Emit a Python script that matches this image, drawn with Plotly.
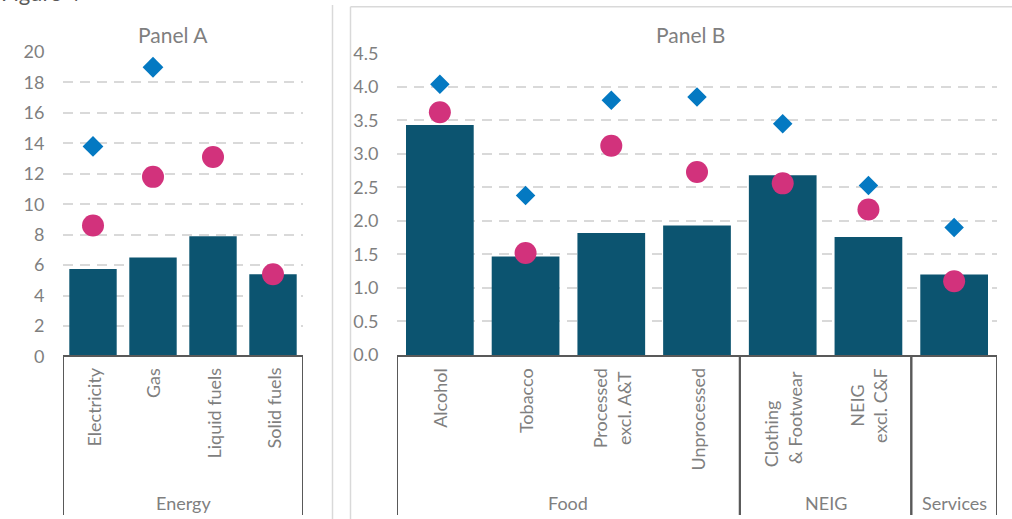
import plotly.graph_objects as go

W, H = 1012, 519

# ---------------- data ----------------
a_categories = ["Electricity", "Gas", "Liquid fuels", "Solid fuels"]
a_labels = ["Electricity", "Gas", "Liquid fuels", "Solid fuels"]
a_bars = [5.75, 6.5, 7.9, 5.4]
a_circles = [8.6, 11.8, 13.1, 5.4]
a_diamonds = [13.8, 19.0, None, None]
a_groups = [("Energy", 0, 3)]

b_categories = ["Alcohol", "Tobacco", "Processed", "Unprocessed", "Clothing", "NEIG", "Services"]
b_labels = ["Alcohol", "Tobacco", "Processed<br>excl. A&T", "Unprocessed",
            "Clothing       <br>& Footwear", "NEIG<br>excl. C&F", ""]
b_bars = [3.43, 1.47, 1.82, 1.93, 2.68, 1.76, 1.20]
b_circles = [3.62, 1.52, 3.12, 2.73, 2.56, 2.17, 1.10]
b_diamonds = [4.04, 2.38, 3.80, 3.85, 3.45, 2.53, 1.90]
b_groups = [("Food", 0, 3), ("NEIG", 4, 5), ("Services", 6, 6)]

a_yticks = [0, 2, 4, 6, 8, 10, 12, 14, 16, 18, 20]
b_yticks = [0.0, 0.5, 1.0, 1.5, 2.0, 2.5, 3.0, 3.5, 4.0, 4.5]

BAR = "#0c5470"
DIAM = "#0479c2"
CIRC = "#d2327c"
GRID = "#d9d9d9"
TXT = "#7f7f7f"
BOX = "#595959"
FONT = "Lato"

def px_x(x):
    return x / W

def px_y(y):
    return 1 - y / H

fig = go.Figure()

# Panel A traces
fig.add_trace(go.Bar(x=a_categories, y=a_bars, marker=dict(color=BAR, line=dict(width=0)),
                     xaxis="x", yaxis="y", showlegend=False))
fig.add_trace(go.Scatter(x=a_categories, y=a_diamonds, mode="markers",
                         marker=dict(symbol="diamond", size=16, color=DIAM),
                         xaxis="x", yaxis="y", showlegend=False))
fig.add_trace(go.Scatter(x=a_categories, y=a_circles, mode="markers",
                         marker=dict(symbol="circle", size=22, color=CIRC),
                         xaxis="x", yaxis="y", showlegend=False))
# Panel B traces
fig.add_trace(go.Bar(x=b_categories, y=b_bars, marker=dict(color=BAR, line=dict(width=0)),
                     xaxis="x2", yaxis="y2", showlegend=False))
fig.add_trace(go.Scatter(x=b_categories, y=b_diamonds, mode="markers",
                         marker=dict(symbol="diamond", size=15, color=DIAM),
                         xaxis="x2", yaxis="y2", showlegend=False))
fig.add_trace(go.Scatter(x=b_categories, y=b_circles, mode="markers",
                         marker=dict(symbol="circle", size=22, color=CIRC),
                         xaxis="x2", yaxis="y2", showlegend=False))

yaxis_common = dict(
    showgrid=True, gridcolor=GRID, gridwidth=2, griddash="10px,7px",
    zeroline=False, showline=False, automargin=False,
    ticks="outside", ticklen=14, tickcolor="rgba(0,0,0,0)",
    tickfont=dict(family=FONT, size=18, color=TXT),
)
xaxis_common = dict(showticklabels=False, showgrid=False, zeroline=False,
                    showline=False, ticks="", automargin=False)

a_y0, a_y1 = 356.5, 52.0
b_y0, b_y1 = 355.0, 53.3

fig.update_layout(
    width=W, height=H,
    margin=dict(l=0, r=0, t=0, b=0, pad=0, autoexpand=False),
    paper_bgcolor="white", plot_bgcolor="white",
    bargap=0.21,
    font=dict(family=FONT, color=TXT),
    xaxis=dict(domain=[px_x(63), px_x(303)], anchor="y", range=[-0.5, 3.5], **xaxis_common),
    yaxis=dict(domain=[px_y(a_y0), px_y(a_y1)], anchor="x", range=[0, 20],
               tickvals=a_yticks, ticktext=[str(v) for v in a_yticks], **yaxis_common),
    xaxis2=dict(domain=[px_x(397), px_x(997)], anchor="y2", range=[-0.5, 6.5], **xaxis_common),
    yaxis2=dict(domain=[px_y(b_y0), px_y(b_y1)], anchor="x2", range=[0, 4.5],
                tickvals=b_yticks, ticktext=[f"{v:.1f}" for v in b_yticks], **yaxis_common),
)

shapes = []
annotations = []

def category_box(xref, n, groups, labels):
    top = px_y(356)
    bottom = px_y(515)
    shapes.append(dict(type="line", xref=xref, yref="paper", x0=-0.5, x1=n - 0.5,
                       y0=top, y1=top, line=dict(color=BOX, width=2)))
    for name, i0, i1 in groups:
        for xb in (i0 - 0.5, i1 + 0.5):
            shapes.append(dict(type="line", xref=xref, yref="paper", x0=xb, x1=xb,
                               y0=top, y1=bottom, line=dict(color=BOX, width=2)))
        annotations.append(dict(text=name, xref=xref, yref="paper", x=(i0 + i1) / 2,
                                y=px_y(503), xanchor="center", yanchor="middle",
                                showarrow=False, font=dict(family=FONT, size=18, color=TXT)))
    for i, lab in enumerate(labels):
        if not lab:
            continue
        annotations.append(dict(text=lab, xref=xref, yref="paper", x=i, y=px_y(366),
                                xanchor="center", yanchor="top", textangle=-90,
                                align="center", showarrow=False,
                                font=dict(family=FONT, size=18, color=TXT)))

category_box("x", len(a_categories), a_groups, a_labels)
category_box("x2", len(b_categories), b_groups, b_labels)

# panel frames
shapes.append(dict(type="line", xref="paper", yref="paper", x0=px_x(332.5), x1=px_x(332.5),
                   y0=px_y(5), y1=0, line=dict(color=GRID, width=1.5)))
shapes.append(dict(type="line", xref="paper", yref="paper", x0=px_x(350.5), x1=px_x(350.5),
                   y0=px_y(6.7), y1=0, line=dict(color=GRID, width=1.5)))
shapes.append(dict(type="line", xref="paper", yref="paper", x0=px_x(350.5), x1=1,
                   y0=px_y(6.7), y1=px_y(6.7), line=dict(color=GRID, width=1.5)))

# titles
annotations.append(dict(text="Panel A", xref="paper", yref="paper", x=px_x(173), y=px_y(35),
                        xanchor="center", yanchor="middle", showarrow=False,
                        font=dict(family=FONT, size=21, color=TXT)))
annotations.append(dict(text="Panel B", xref="paper", yref="paper", x=px_x(690), y=px_y(35),
                        xanchor="center", yanchor="middle", showarrow=False,
                        font=dict(family=FONT, size=21, color=TXT)))
annotations.append(dict(text="Figure 4", xref="paper", yref="paper", x=0, y=px_y(7),
                        xanchor="left", yanchor="bottom", showarrow=False, borderpad=0,
                        font=dict(family=FONT, size=22, color="#595959")))

fig.update_layout(shapes=shapes, annotations=annotations)
fig.write_html("out.html", config={"displayModeBar": False},
               post_script="document.body.style.margin='0';document.body.style.overflow='hidden';")
